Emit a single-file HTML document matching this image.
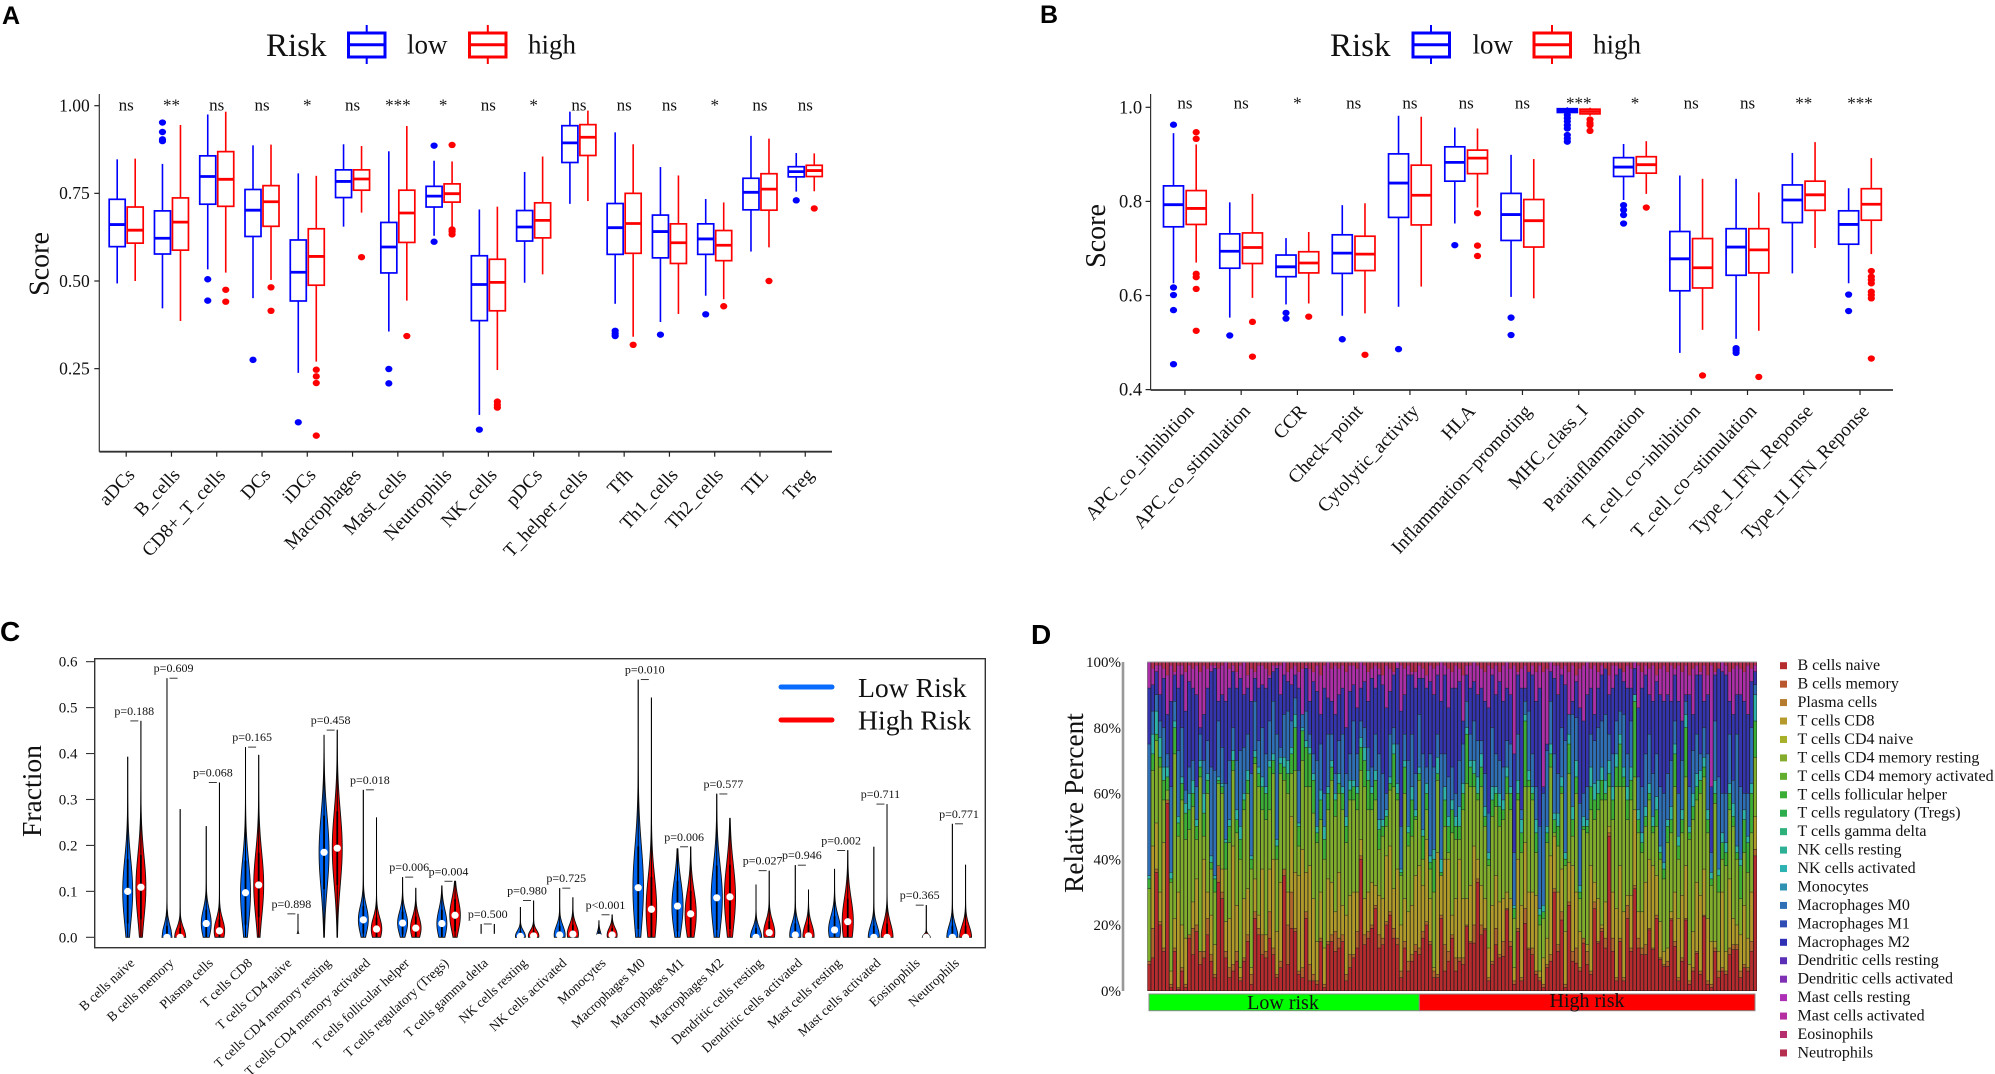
<!DOCTYPE html>
<html lang="en">
<head>
<meta charset="utf-8">
<title>Immune infiltration panels</title>
<style>
html,body{margin:0;padding:0;background:#fff;width:1995px;height:1074px;overflow:hidden}
svg{display:block}
text{font-family:"Liberation Serif",serif;fill:#111}
.panel{font-family:"Liberation Sans",sans-serif;font-weight:bold;fill:#000}
</style>
</head>
<body>
<svg id="fig" xmlns="http://www.w3.org/2000/svg" width="1995" height="1074" viewBox="0 0 1995 1074">
<rect width="1995" height="1074" fill="#fff"/>
<text class="panel" x="2" y="24" font-size="25" style="font-family:'Liberation Sans',sans-serif">A</text>
<text class="panel" x="1040" y="23" font-size="25" style="font-family:'Liberation Sans',sans-serif">B</text>
<text class="panel" x="0" y="641" font-size="28" style="font-family:'Liberation Sans',sans-serif">C</text>
<text class="panel" x="1031" y="644" font-size="28" style="font-family:'Liberation Sans',sans-serif">D</text>

<g>
<text x="266" y="56" font-size="33">Risk</text>
<g fill="none" stroke="#0000ff"><line x1="366.7" x2="366.7" y1="25" y2="64" stroke-width="2"/><rect x="348.5" y="33" width="36.5" height="24" fill="#fff" stroke-width="3"/><line x1="348.5" x2="385" y1="44.7" y2="44.7" stroke-width="3"/></g>
<text x="407" y="53.5" font-size="27">low</text>
<g fill="none" stroke="#ff0000"><line x1="487.8" x2="487.8" y1="25" y2="64" stroke-width="2"/><rect x="469.5" y="33" width="36.5" height="24" fill="#fff" stroke-width="3"/><line x1="469.5" x2="506" y1="44.7" y2="44.7" stroke-width="3"/></g>
<text x="528" y="53.5" font-size="27">high</text>
</g>
<g>
<text x="1330" y="56" font-size="33">Risk</text>
<g fill="none" stroke="#0000ff"><line x1="1431" x2="1431" y1="25" y2="64" stroke-width="2"/><rect x="1413" y="33" width="36.5" height="24" fill="#fff" stroke-width="3"/><line x1="1413" x2="1449.5" y1="44.7" y2="44.7" stroke-width="3"/></g>
<text x="1472.5" y="53.5" font-size="27">low</text>
<g fill="none" stroke="#ff0000"><line x1="1552" x2="1552" y1="25" y2="64" stroke-width="2"/><rect x="1534" y="33" width="36.5" height="24" fill="#fff" stroke-width="3"/><line x1="1534" x2="1570.5" y1="44.7" y2="44.7" stroke-width="3"/></g>
<text x="1593" y="53.5" font-size="27">high</text>
</g>
<text transform="translate(48.5,264) rotate(-90)" text-anchor="middle" font-size="28">Score</text>
<text transform="translate(1105,236) rotate(-90)" text-anchor="middle" font-size="28">Score</text>
<text transform="translate(41,791) rotate(-90)" text-anchor="middle" font-size="27.6">Fraction</text>
<text transform="translate(1083,803) rotate(-90)" text-anchor="middle" font-size="27.3">Relative Percent</text>

<rect x="94.7" y="658.7" width="890.6" height="289" fill="none" stroke="#333" stroke-width="1.4"/>
<g>
<line x1="781" x2="832" y1="687" y2="687" stroke="#0a6cff" stroke-width="5" stroke-linecap="round"/>
<text x="858" y="697" font-size="27.7">Low Risk</text>
<line x1="781" x2="832" y1="720" y2="720" stroke="#ff0000" stroke-width="5" stroke-linecap="round"/>
<text x="858" y="729.5" font-size="27.7">High Risk</text>
</g>
<g>
<rect x="1149" y="994" width="270.3" height="16.7" fill="#00ff00" stroke="#888" stroke-width="1"/>
<rect x="1419.3" y="994" width="335.7" height="16.7" fill="#ff0000" stroke="#888" stroke-width="1"/>
<text x="1283" y="1009" text-anchor="middle" font-size="20">Low risk</text>
<text x="1587" y="1007" text-anchor="middle" font-size="20">High risk</text>
</g>
<line x1="1123" x2="1123" y1="662" y2="991" stroke="#999" stroke-width="2.6"/>
<g id="plotA"></g>
<g id="plotB"></g>
<g id="plotC"></g>
<g id="plotD"></g>
</svg>
<script>
/* ---------- Panel A data ---------- */
const aCategories=["aDCs","B_cells","CD8+_T_cells","DCs","iDCs","Macrophages","Mast_cells","Neutrophils","NK_cells","pDCs","T_helper_cells","Tfh","Th1_cells","Th2_cells","TIL","Treg"];
const aSignificance=["ns","**","ns","ns","*","ns","***","*","ns","*","ns","ns","ns","*","ns","ns"];
const aTickValues=[1,0.75,0.5,0.25];
const aLowWhiskerMin=[.493,.422,.533,.451,.238,.655,.356,.629,.118,.495,.72,.435,.383,.458,.584,.755];
const aLowQ1=[.598,.577,.719,.627,.443,.738,.523,.711,.387,.614,.838,.576,.566,.576,.703,.797];
const aLowMedian=[.661,.622,.798,.702,.525,.784,.597,.742,.49,.654,.894,.652,.641,.62,.753,.812];
const aLowQ3=[.733,.70,.857,.761,.617,.817,.667,.77,.572,.701,.943,.721,.688,.663,.793,.826];
const aLowWhiskerMax=[.847,.834,.975,.887,.807,.89,.87,.843,.704,.811,.983,.924,.825,.734,.914,.865];
const aLowOutliers=[[],[.952,.925,.904,.899],[.505,.444],[.275],[.097],[],[.249,.208],[.886,.612],[.076],[],[],[.358,.35,.343],[.347],[.405],[],[.73]];
const aHighWhiskerMin=[.50,.386,.524,.503,.27,.695,.444,.655,.246,.519,.728,.341,.406,.448,.596,.756];
const aHighQ1=[.608,.588,.713,.656,.488,.759,.61,.725,.415,.623,.858,.579,.55,.558,.702,.798];
const aHighMedian=[.645,.668,.79,.726,.57,.791,.694,.749,.496,.673,.91,.664,.609,.602,.762,.815];
const aHighQ3=[.711,.737,.869,.772,.649,.817,.759,.777,.562,.723,.946,.75,.663,.644,.806,.83];
const aHighWhiskerMax=[.849,.945,.983,.889,.80,.885,.942,.841,.712,.855,.986,.89,.801,.724,.906,.864];
const aHighOutliers=[[],[],[.475,.441],[.482,.415],[.247,.228,.209,.059],[.568],[.343],[.888,.647,.641,.633],[.156,.147,.139],[],[],[.318],[],[.428],[.50],[.707]];

/* ---------- Panel B data ---------- */
const bCategories=["APC_co_inhibition","APC_co_stimulation","CCR","Check\u2212point","Cytolytic_activity","HLA","Inflammation\u2212promoting","MHC_class_I","Parainflammation","T_cell_co\u2212inhibition","T_cell_co\u2212stimulation","Type_I_IFN_Reponse","Type_II_IFN_Reponse"];
const bSignificance=["ns","ns","*","ns","ns","ns","ns","***","*","ns","ns","**","***"];
const bTickValues=[1,0.8,0.6,0.4];
const bLowWhiskerMin=[.626,.553,.581,.557,.576,.753,.597,.987,.803,.478,.508,.647,.626];
const bLowQ1=[.746,.658,.64,.647,.766,.843,.717,.989,.853,.61,.643,.755,.709];
const bLowMedian=[.793,.694,.661,.69,.839,.883,.772,.993,.873,.678,.703,.803,.751];
const bLowQ3=[.833,.731,.686,.729,.901,.916,.817,.997,.893,.736,.742,.835,.78];
const bLowWhiskerMax=[.945,.798,.722,.792,.982,.957,.899,1,.922,.855,.848,.903,.828];
const bLowOutliers=[[.963,.617,.601,.569,.454],[.515],[.563,.551],[.507],[.486],[.707],[.553,.516],[.984,.977,.97,.962,.955,.941,.934,.927],[.792,.782,.771,.753],[],[.488,.483,.478],[],[.602,.567]];
const bHighWhiskerMin=[.67,.595,.583,.562,.619,.787,.594,.982,.816,.527,.525,.701,.688];
const bHighQ1=[.751,.668,.648,.653,.75,.859,.703,.986,.86,.616,.648,.781,.76];
const bHighMedian=[.785,.702,.669,.688,.813,.892,.759,.991,.878,.659,.697,.814,.794];
const bHighQ3=[.823,.733,.693,.726,.877,.909,.804,.996,.895,.721,.742,.843,.827];
const bHighWhiskerMax=[.921,.816,.735,.796,.98,.955,.89,.999,.928,.848,.819,.926,.892];
const bHighOutliers=[[.947,.933,.646,.639,.614,.525],[.544,.47],[.555],[.474],[],[.775,.706,.684],[],[.974,.967,.962,.95],[.787],[.43],[.427],[],[.652,.64,.633,.626,.608,.601,.594,.466]];

/* ---------- Panel C data ---------- */
const cCategories=["B cells naive","B cells memory","Plasma cells","T cells CD8","T cells CD4 naive","T cells CD4 memory resting","T cells CD4 memory activated","T cells follicular helper","T cells regulatory (Tregs)","T cells gamma delta","NK cells resting","NK cells activated","Monocytes","Macrophages M0","Macrophages M1","Macrophages M2","Dendritic cells resting","Dendritic cells activated","Mast cells resting","Mast cells activated","Eosinophils","Neutrophils"];
const cPValues=["p=0.188","p=0.609","p=0.068","p=0.165","p=0.898","p=0.458","p=0.018","p=0.006","p=0.004","p=0.500","p=0.980","p=0.725","p<0.001","p=0.010","p=0.006","p=0.577","p=0.027","p=0.946","p=0.002","p=0.711","p=0.365","p=0.771"];
const cTickValues=[0,0.1,0.2,0.3,0.4,0.5,0.6];
const cLowMax=[.393,.564,.242,.414,.004,.44,.321,.131,.112,.029,.066,.107,.036,.561,.193,.312,.115,.157,.149,.197,.003,.247];
const cLowMedian=[.10,0,.03,.097,0,.185,.038,.031,.03,0,.002,.005,0,.108,.068,.086,0,.005,.016,0,0,0];
const cLowSpread=[.07,.025,.03,.07,0,.08,.03,.025,.03,0,.012,.02,.012,.09,.055,.07,.02,.025,.03,.025,0,.025];
const cLowDensity=[5,5,5,5,0,5,5,5,5,0,5,5.5,2.5,5.3,5.6,5.6,5.6,5.6,6,5.6,0,5.6];
const cHighMax=[.471,.279,.337,.397,.051,.451,.261,.107,.122,.029,.08,.087,.049,.522,.197,.259,.145,.104,.189,.29,.07,.158];
const cHighMedian=[.109,0,.014,.114,0,.194,.018,.02,.048,0,.003,.007,.005,.061,.051,.088,.01,.003,.034,0,0,0];
const cHighSpread=[.07,.02,.025,.07,.006,.08,.025,.025,.035,0,.012,.02,.015,.07,.05,.07,.025,.025,.05,.03,.006,.025];
const cHighDensity=[5,5.6,5.3,5,2,5,5.3,5.3,5.3,0,5.3,5.6,5,5.3,5.6,5.6,5.6,5.6,5.6,6,4,6];

/* ---------- Panel D data: cumulative percent at the top of each cell type, per sample ---------- */
const dTickValues=[0,20,40,60,80,100];
const dLegendLabels=["B cells naive","B cells memory","Plasma cells","T cells CD8","T cells CD4 naive","T cells CD4 memory resting","T cells CD4 memory activated","T cells follicular helper","T cells regulatory (Tregs)","T cells gamma delta","NK cells resting","NK cells activated","Monocytes","Macrophages M0","Macrophages M1","Macrophages M2","Dendritic cells resting","Dendritic cells activated","Mast cells resting","Mast cells activated","Eosinophils","Neutrophils"];
const dLegendColors=["#b52b2e","#b9582e","#b67c2e","#b69a2c","#a8b02a","#85ad2d","#63ad2f","#3bae35","#2ead4f","#2db07a","#2eb097","#2eb3b3","#2f92b3","#2f6fb5","#2f4db5","#3030b5","#5a2fb5","#8030b5","#ad2fb5","#b52fa0","#b52f70","#b52f50"];
const dNaive=[8,10,36,20,12,57,1,12,.5,6,1,16,11,18,8,10,17,9,4,33,28,10,4,6,9,3,9,15,2,22,17,11,10,16,11,4,7,35,8,19,
18,5,4,22,3,3,2,15,1,14,15,12,13,15,3,7,10,13,40,14,16,19,25,13,14,20,23,16,14,4,13,6,9,12,11,16,20,14,4,
4,22,6,9,16,6,9,8,19.5,14.5,14.5,33,17,18.5,3,8,14,10,10.5,24.6,13.5,2,18,3,20.5,12.5,11,5,3,1,7,9,30,12,21.5,1,26,9,8.4,6,14.5,8,
5,25,14.5,18,13,47,12,3,15,3,22,12,31,13,11,11,18.5,12.5,22,9.5,7.4,7.4,21.5,13.5,3,9,21.5,2,6,11.4,5,22.6,2,1,12,4,6,5,11,12.5,12.5,
4,7,6,12,41];
const dMemory=[9,19,37,21,13,58,2,13,1,7,2,17,19,20,12,12,22,11,5,38,30,12,7,8,12,4,10,17,5,24,19,17,12,24,13,5,9,37,20,30,
19,6,7,24,8,5,3,16,2,15,17,18,16,17,5,11,11,18,41,17,18,20,26,17,16,21,24,19,16,6,15,9,11,14,13,18,21,15,6,
5,23,14,12,17,10,10,10,20,15,20,34,20,19,4,9,19,11,15,25,15,3,19,4,25,13,13,6,4,2,8,11,31,14,24,2,27,12,13,7,16,12,
6,27,15,19,16,48,16,4,16,4,26,13,32,16,13,14,19,13,23,10,8,9,22,15,4,10,22,3,7,12,6,23,3,2,13,6,7,6,13,14,14,
6,8,7,15,43];
const dCD8=[9,44,51,30,45,58,6,22,30,20,16,17,27,34,12,40,30,23,14,38,37,21,22,44,26,7,28,31,7,34,23,37,17,37,40,18,33,37,30,53,
36,35,43,36,38,28,15,30,13,34,33,24,36,26,23,29,30,30,46,28,30,33,32,29,28,41,44,31,37,20,28,24,26,35,38,32,46,28,7,
42,35,40,40,23,28,40,28,28,32,44,40,32,28,13,26,35,27,28,30,28,7,40,26,45,30,30,29,6,10,16,41,47,30,37,18,39,38,30,18,15,14,
38,33,28,20,27,50,30,25,38,24,29,29,55,24,24,33,40,38,35,21,12,13,24,30,22,29,38,8,18,33,29,37,22,15,15,12,30,12,34,22,20,
17,26,16,30,53];
const dCD4Resting=[31,67,76,68,58,61,33,72,47,58,46,49,56,46,65,47,60,37,30,63,60,37,45,67,48,40,55,60,37,69,62,55,52,55,66,40,66,64,60,66,
67,44,70,62,62,54,45,52,40,55,64,53,60,55,45,58,58,55,67,62,55,55,58,43,47,50,61,62,58,35,60,44,47,52,64,40,55,37,30,
64,30,50,42,48,46,46,55,63,62,62,58,62,50,38,53,56,50,52,60,55,22,58,42,62,62,58,42,20,22,45,68,48,44,60,38,66,47,60,28,49,48,
55,52,55,58,58,62,52,62,62,62,52,58,65,48,42,50,58,48,50,40,34,45,48,62,40,48,65,46,52,58,60,65,48,32,57,30,40,38,55,50,40,
28,42,36,48,71];
const dCD4Activated=[34,72,78,71,64,65,34,80,51,63,54,55,60,50,68,54,64,39,34,64,62,45,50,70,52,46,58,64,40,71,66,62,60,68,70,44,69,68,66,72,
80,50,79,74,72,64,48,58,46,60,68,58,63,60,50,61,62,60,74,70,64,60,64,49,50,53,63,72,60,36,68,48,58,53,66,47,60,39,40,
66,36,58,50,55,50,50,60,78,68,66,60,68,53,40,58,60,56,55,65,60,25,60,48,82,64,60,48,23,24,48,72,52,50,62,40,75,52,65,30,50,50,
62,58,60,64,60,66,58,68,75,65,58,64,88,52,45,53,60,50,55,42,37,50,52,72,44,52,80,48,56,62,64,68,52,34,60,35,45,42,60,53,42,
38,52,45,60,82];
const dNKActivated=[35,78,85,77,68,68,36,82,53,65,57,60,64,52,70,60,66,41,35,65,63,46,52,73,55,50,60,67,41,73,68,65,62,70,72,46,71,71,70,74,
84,51,80,76,74,66,50,61,50,62,70,60,66,62,53,64,64,62,77,74,67,62,67,52,52,55,65,75,63,37,70,50,62,55,68,49,63,41,43,
71,40,62,53,58,53,56,63,80,70,70,65,72,56,42,62,62,60,58,68,62,26,64,52,84,67,62,52,25,26,50,75,54,54,65,42,78,56,70,32,53,52,
68,63,64,68,64,70,62,72,78,68,62,68,90,55,48,56,63,53,59,44,39,52,56,75,47,55,84,50,60,66,67,71,55,36,64,37,48,45,63,57,44,
40,55,47,63,90];
const dMacrophagesM0=[75,85,90,82,80,72,62,88,73,80,61,68,70,62,78,70,76,68,67,82,74,63,70,80,70,73,74,78,66,88,76,80,72,82,88,78,74,84,85,82,
89,67,84,85,78,72,70,75,60,78,78,66,76,78,66,72,82,72,82,80,74,68,78,72,66,60,78,80,75,50,78,70,78,66,84,72,68,72,68,
78,72,72,65,68,60,70,75,88,78,82,76,76,66,54,80,72,70,68,76,75,42,78,55,88,85,72,62,50,60,73,88,72,66,80,76,84,84,83,57,60,62,
78,76,80,82,84,78,72,82,85,84,72,82,86,65,62,72,78,66,72,62,60,66,70,82,60,70,88,62,73,78,72,80,72,42,82,65,60,60,78,64,78,
62,60,60,80,93];
const dMacrophagesM2=[92,93,97,90,95,84,88,96,92,96,85,94,92,90,80,84,92,97,98,88,90,88,92,97,92,95,90,92,88,95,92,93,92,95,97,98,90,96,94,93,
96,92,76,98,88,94,91,84,92,89,88,84,90,92,80,91,93,86,92,94,88,95,92,96,93,86,91,96,98,85,90,96,96,92,95,95,92,94,90,
96,88,96,86,92,92,94,82,96,92,94,90,92,88,86,96,90,94,88,92,90,72,96,92,92,97,96,88,92,62,75,97,95,90,96,93,84,88,94,86,82,90,
92,84,92,96,98,90,92,96,98,94,92,92,98,86,92,96,90,88,94,90,88,90,88,96,88,82,90,90,84,96,96,88,90,62,96,98,97,96,88,84,90,
90,88,84,94,97];
const dMastResting=[100,98,99,99,98,96,99,97,99,99,97,99,98,99,97,99,98,99,99,98,99,100,98,99,97,99,100,96,98,97,99,99,98,96,99,99,99,100,97,98,
99,97,98,99,98,97,99,96,99,100,98,99,98,99,97,99,99,98,100,99,97,98,99,98,96,99,98,97,100,99,98,99,97,97,99,98,96,99,98,
99,100,99,98,97,99,98,96,99,99,100,99,98,97,99,98,99,97,99,100,98,99,97,98,99,96,99,97,99,97,98,100,99,99,98,99,97,99,96,98,99,100,
98,99,97,99,98,96,99,99,98,97,99,98,100,99,97,99,98,99,96,98,99,97,99,98,99,97,99,96,98,99,97,99,96,99,97,98,100,99,97,98,99,
98,97,99,98,99];

/* ---------- helpers ---------- */
const NS='http://www.w3.org/2000/svg';
function mk(tag,parent,attrs,txt){
  const el=document.createElementNS(NS,tag);
  for(const k in attrs){el.setAttribute(k,attrs[k]);}
  if(txt!==undefined){el.textContent=txt;}
  parent.appendChild(el);
  return el;
}
const slug=s=>String(s).toLowerCase().replace(/[^a-z0-9]+/g,'-').replace(/^-|-$/g,'');

/* ---------- box plots ---------- */
function boxSeries(group,ax,color,label,offset,boxW,wMin,q1,med,q3,wMax,outs){
  wMin.forEach((_,i)=>{
    const cx=ax.x(i)+offset, name=slug(ax.cats[i])+'-'+label;
    const upper=mk('line',group,{x1:cx,x2:cx,y1:ax.y(wMax[i]),y2:ax.y(q3[i]),stroke:color,'stroke-width':1.6});
    
    
    const lower=mk('line',group,{x1:cx,x2:cx,y1:ax.y(q1[i]),y2:ax.y(wMin[i]),stroke:color,'stroke-width':1.6});
    
    
    const box=mk('rect',group,{x:cx-boxW/2,y:ax.y(q3[i]),width:boxW,height:Math.max(0,ax.y(q1[i])-ax.y(q3[i])),fill:'#fff',stroke:color,'stroke-width':1.7});
    
    
    const m=mk('line',group,{x1:cx-boxW/2,x2:cx+boxW/2,y1:ax.y(med[i]),y2:ax.y(med[i]),stroke:color,'stroke-width':2.8});
    
    
    outs[i].forEach(v=>{
      const o=mk('ellipse',group,{cx:cx,cy:ax.y(v),rx:3.6,ry:3.2,fill:color});
      
      
    });
  });
}
function boxPanel(group,ax,opt){
  const axisY=mk('line',group,{x1:ax.left,x2:ax.left,y1:ax.top,y2:ax.bottom,stroke:'#333','stroke-width':1.2});
  
  
  const axisX=mk('line',group,{x1:ax.left,x2:ax.right,y1:ax.bottom,y2:ax.bottom,stroke:'#333','stroke-width':1.8});
  
  
  opt.ticks.forEach(v=>{
    const t=mk('line',group,{x1:ax.left-5,x2:ax.left,y1:ax.y(v),y2:ax.y(v),stroke:'#222','stroke-width':1.2});
    
    
    const l=mk('text',group,{x:ax.left-opt.labelGap,y:ax.y(v)+opt.tickFont*.33,'text-anchor':'end','font-size':opt.tickFont},v.toFixed(opt.decimals));
    
    
  });
  ax.cats.forEach((c,i)=>{
    const x=ax.x(i);
    const t=mk('line',group,{x1:x,x2:x,y1:ax.bottom,y2:ax.bottom+5,stroke:'#222','stroke-width':1.2});
    
    
    const l=mk('text',group,{transform:`translate(${x+opt.labelDx},${ax.bottom+opt.labelDy}) rotate(${opt.angle})`,'text-anchor':'end','font-size':opt.labelFont},c);
    
    
    const s=mk('text',group,{x:x,y:opt.sigY,'text-anchor':'middle','font-size':17},opt.sig[i]);
    
    
  });
}
const plotA=document.getElementById('plotA');
const axA={cats:aCategories,left:99.3,right:832,top:94,bottom:451.7,x:i=>126.2+i*45.27,y:v=>105.7+(1-v)*350.6};
boxPanel(plotA,axA,{ticks:aTickValues,decimals:2,tickFont:17.5,labelGap:9.5,labelDx:9.5,labelDy:24,angle:-47,labelFont:19,sig:aSignificance,sigY:110.7});
boxSeries(plotA,axA,'#0000ff','low',-9,16,aLowWhiskerMin,aLowQ1,aLowMedian,aLowQ3,aLowWhiskerMax,aLowOutliers);
boxSeries(plotA,axA,'#ff0000','high',9,16,aHighWhiskerMin,aHighQ1,aHighMedian,aHighQ3,aHighWhiskerMax,aHighOutliers);

const plotB=document.getElementById('plotB');
const axB={cats:bCategories,left:1150.6,right:1893,top:94,bottom:390,x:i=>1184.9+i*56.26,y:v=>107.3+(1-v)*470.5};
boxPanel(plotB,axB,{ticks:bTickValues,decimals:1,tickFont:18.5,labelGap:8.5,labelDx:10,labelDy:22,angle:-47,labelFont:19.2,sig:bSignificance,sigY:108.3});
boxSeries(plotB,axB,'#0000ff','low',-11.4,20,bLowWhiskerMin,bLowQ1,bLowMedian,bLowQ3,bLowWhiskerMax,bLowOutliers);
boxSeries(plotB,axB,'#ff0000','high',11.3,20,bHighWhiskerMin,bHighQ1,bHighMedian,bHighQ3,bHighWhiskerMax,bHighOutliers);

/* ---------- violins ---------- */
const plotC=document.getElementById('plotC');
const xC=i=>134.3+i*39.27;
const yC=v=>937.3-v*459.4;
cTickValues.forEach(v=>{
  const t=mk('line',plotC,{x1:86,x2:94.7,y1:yC(v),y2:yC(v),stroke:'#333','stroke-width':1.1});
  
  
  const l=mk('text',plotC,{x:77.5,y:yC(v)+5,'text-anchor':'end','font-size':15},v.toFixed(1));
  
  
});
function violin(i,cx,color,label,top,med,spread,peak){
  const steps=36;
  const right=[],left=[];
  for(let s=0;s<=steps;s++){
    const v=top*s/steps;
    const z=spread>0?(v-med)/spread:9;
    const w=peak*Math.exp(-z*z/2);
    right.push((cx+w).toFixed(2)+','+yC(v).toFixed(2));
    left.unshift((cx-w).toFixed(2)+','+yC(v).toFixed(2));
  }
  const name=slug(cCategories[i])+'-'+label;
  const body=mk('polygon',plotC,{points:right.concat(left).join(' '),fill:color,stroke:'#111','stroke-width':.9});
  
  
  const stem=mk('line',plotC,{x1:cx,x2:cx,y1:yC(top),y2:yC(0),stroke:'#000','stroke-width':1});
  
  
  const iqr=mk('line',plotC,{x1:cx,x2:cx,y1:yC(med+spread),y2:yC(Math.max(0,med-spread)),stroke:'#000','stroke-width':1.8});
  
  
  const dot=mk('circle',plotC,{cx:cx,cy:yC(med),r:3.6,fill:'#fff'});
  
  
}
cCategories.forEach((c,i)=>{
  const x=xC(i);
  violin(i,x-6.6,'#0066f2','low',cLowMax[i],cLowMedian[i],cLowSpread[i],cLowDensity[i]);
  violin(i,x+6.6,'#f00000','high',cHighMax[i],cHighMedian[i],cHighSpread[i],cHighDensity[i]);
  const yb=yC(Math.max(cLowMax[i],cHighMax[i]));
  const br=mk('line',plotC,{x1:x-4,x2:x+4,y1:yb,y2:yb,stroke:'#222','stroke-width':.9});
  
  
  const p=mk('text',plotC,{x:x,y:yb-6,'text-anchor':'middle','font-size':12},cPValues[i]);
  
  
  const l=mk('text',plotC,{transform:`translate(${x+1},964) rotate(-43)`,'text-anchor':'end','font-size':13.5},c);
  
  
});

/* ---------- stacked bars ---------- */
const plotD=document.getElementById('plotD');
const yD=v=>991-v*3.29;
const stackEdges=[dNaive,dMemory,dCD8,dCD4Resting,dCD4Activated,dNKActivated,dMacrophagesM0,dMacrophagesM2,dMastResting];
const stackColors=["#b52b2e","#b0662c","#b09a2a","#80ad2c","#3bae35","#2eb3a8","#2f6fb5","#3535b0","#ad2fa8"];
const stackNames=["b-cells-naive","b-cells-memory","t-cells-cd8","t-cells-cd4-memory-resting","t-cells-follicular-helper","nk-cells-activated","macrophages-m0","macrophages-m2","mast-cells-resting"];
const sampleCount=dNaive.length;
const pitchD=(1757-1147.3)/sampleCount;
const xD=i=>1147.3+i*pitchD;
const bg=mk('rect',plotD,{x:1147.3,y:662,width:609.7,height:329,fill:'#1c1c1c'});


for(let i=0;i<sampleCount;i++){
  let prev=0;
  stackEdges.forEach((arr,s)=>{
    const edge=Math.max(prev,arr[i]===undefined?prev:arr[i]);
    const r=mk('rect',plotD,{x:xD(i)+.4,y:yD(edge),width:pitchD-.8,height:Math.max(0,yD(prev)-yD(edge)-.45),fill:stackColors[s]});
    
    
    prev=edge;
  });
  const r=mk('rect',plotD,{x:xD(i)+.4,y:yD(100),width:pitchD-.8,height:Math.max(0,yD(prev)-yD(100)),fill:'#b52f50'});
  
  
}
const topLine=mk('line',plotD,{x1:1147.3,x2:1757,y1:662,y2:662,stroke:'#999','stroke-width':1});


dTickValues.forEach(v=>{
  const l=mk('text',plotD,{x:1121,y:yD(v)+5,'text-anchor':'end','font-size':15,fill:'#333'},v+'%');
  
  
});
dLegendLabels.forEach((label,i)=>{
  const cy=665.7+i*18.44;
  const sw=mk('rect',plotD,{x:1780,y:cy-3.5,width:7,height:7,fill:dLegendColors[i]});
  
  
  const t=mk('text',plotD,{x:1797.5,y:cy+4.5,'font-size':16},label);
  
  
});
</script>
</body>
</html>
